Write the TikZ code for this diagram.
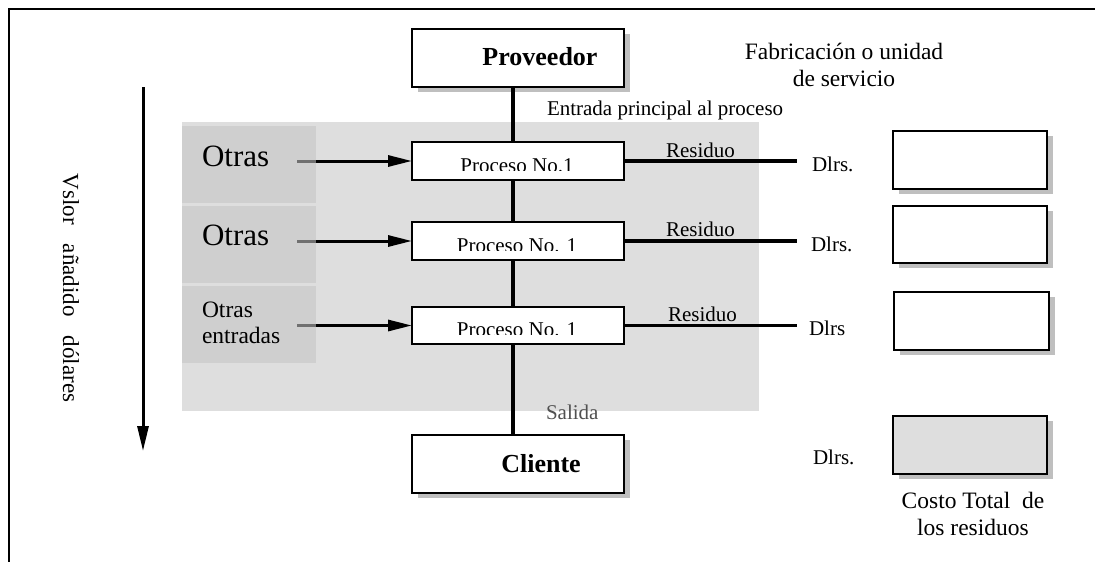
\documentclass[tikz,border=0pt]{standalone}
\usepackage{fontspec}
\setmainfont{Liberation Serif}
\usetikzlibrary{arrows.meta,shadows}

\definecolor{panelgray}{HTML}{DEDEDE}
\definecolor{blockgray}{HTML}{CFCFCF}
\definecolor{shadowgray}{HTML}{BFBFBF}
\definecolor{feedgray}{HTML}{707070}
\definecolor{labelgray}{HTML}{505050}

\tikzset{
  fs/.style 2 args={font=\fontsize{#1}{#2}\selectfont},
  txt/.style={inner sep=0pt, outer sep=0pt},
  box/.style={draw, line width=2pt, fill=white, inner sep=0pt, outer sep=0pt},
  shadowbox/.style={box, drop shadow={shadow xshift=6pt, shadow yshift=-5pt, fill=shadowgray, opacity=1}},
  procbox/.style={box, minimum width=212pt, minimum height=38pt},
  costbox/.style={shadowbox, minimum width=154pt, minimum height=58pt},
  spine/.style={line width=4pt},
  wasteline/.style={line width=3.3pt},
  feedline/.style={line width=3pt, feedgray},
  feedarrow/.style={line width=3pt, -{Triangle[length=24pt, width=11pt]}},
}

\begin{document}
\begin{tikzpicture}[x=1pt, y=-1pt]
  \useasboundingbox (0,0) rectangle (1095,562);

  % frame
  \draw[line width=2pt] (9,562) -- (9,9) -- (1095,9);

  % shaded process area and the side input blocks
  \fill[panelgray] (182,122) rectangle (759,411);
  \fill[blockgray] (182,126) rectangle (316,203);
  \fill[blockgray] (182,206) rectangle (316,283);
  \fill[blockgray] (182,286) rectangle (316,363);

  % value-added arrow
  \coordinate (vtop) at (143,87);
  \coordinate (vbot) at (143,451);
  \draw[line width=3pt, -{Triangle[length=25pt, width=11pt]}] (vtop) -- (vbot);
  \node[txt, fs={23}{26}, rotate=-90] (va) at (71,288)
    {Vslor\hspace{19pt}añadido\hspace{19pt}dólares};

  % boxes
  \node[shadowbox, minimum width=212pt, minimum height=58pt] (prov) at (518,58) {};
  \node[shadowbox, minimum width=212pt, minimum height=58pt] (cli) at (518,464) {};
  \node[procbox] (p1) at (518,161) {};
  \node[procbox] (p2) at (518,241) {};
  \node[procbox, minimum height=37pt] (p3) at (518,325.5) {};

  \node[costbox] (c1) at (970,160) {};
  \node[costbox, minimum height=57pt] (c2) at (970,234.5) {};
  \node[costbox, minimum width=155pt] (c3) at (971.5,321) {};
  \node[costbox, fill=panelgray] (c4) at (970,445) {};

  % main flow line
  \coordinate (sp) at (513,0);
  \draw[spine] (prov.south -| sp) -- (p1.north -| sp);
  \draw[spine] (p1.south -| sp) -- (p2.north -| sp);
  \draw[spine] (p2.south -| sp) -- (p3.north -| sp);
  \draw[spine] (p3.south -| sp) -- (cli.north -| sp);

  % other inputs
  \foreach \p in {p1,p2,p3}{
    \coordinate (\p a) at (297,0);
    \coordinate (\p b) at (316,0);
    \draw[feedline] (\p.west -| \p a) -- (\p.west -| \p b);
    \draw[feedarrow] (\p.west -| \p b) -- (\p.west);
  }

  % waste lines
  \coordinate (wend) at (797,0);
  \draw[wasteline] (p1.east) -- (p1.east -| wend);
  \draw[wasteline] (p2.east) -- (p2.east -| wend);
  \draw[wasteline] (p3.east) -- (p3.east -| wend);

  % process labels, cut at the lower edge
  \begin{scope}
    \clip (414,143) rectangle (622,170);
    \node[txt, fs={21}{24}, anchor=base] (pt1) at (517,172) {Proceso No.1};
  \end{scope}
  \begin{scope}
    \clip (414,223) rectangle (622,250);
    \node[txt, fs={21}{24}, anchor=base] (pt2) at (517,252) {Proceso No. 1};
  \end{scope}
  \begin{scope}
    \clip (414,308) rectangle (622,334.5);
    \node[txt, fs={21}{24}, anchor=base] (pt3) at (517,336) {Proceso No. 1};
  \end{scope}

  % texts
  \node[txt, fs={26}{30}, anchor=base] (tprov) at (540,65) {\bfseries Proveedor};
  \node[txt, fs={26}{30}, anchor=base] (tcli) at (541,472) {\bfseries Cliente};

  \node[txt, fs={31}{34}, anchor=base west] (o1) at (202,166) {Otras};
  \node[txt, fs={31}{34}, anchor=base west] (o2) at (202,245) {Otras};
  \node[txt, fs={23.5}{26}, align=left, anchor=west] (o3) at (202,323) {Otras\\entradas};

  \node[txt, fs={21}{24}, anchor=base west] (ent) at (547,115) {Entrada principal al proceso};
  \node[txt, fs={21}{24}, anchor=base west, labelgray] (sal) at (546,419) {Salida};

  \node[txt, fs={21}{24}, anchor=base west] (r1) at (666,157) {Residuo};
  \node[txt, fs={21}{24}, anchor=base west] (r2) at (666,236) {Residuo};
  \node[txt, fs={21}{24}, anchor=base west] (r3) at (668,321) {Residuo};

  \node[txt, fs={21}{24}, anchor=base west] (d1) at (812,171) {Dlrs.};
  \node[txt, fs={21}{24}, anchor=base west] (d2) at (811,251) {Dlrs.};
  \node[txt, fs={21}{24}, anchor=base west] (d3) at (809,335.5) {Dlrs};
  \node[txt, fs={21}{24}, anchor=base west] (d4) at (813,464) {Dlrs.};

  \node[txt, fs={23.5}{27}, align=center, anchor=north] (fab) at (844,43.5)
    {Fabricación o unidad\\de servicio};
  \node[txt, fs={23.5}{27}, align=center, anchor=north] (tot) at (973,492)
    {Costo Total \ de\\los residuos};
\end{tikzpicture}
\end{document}
